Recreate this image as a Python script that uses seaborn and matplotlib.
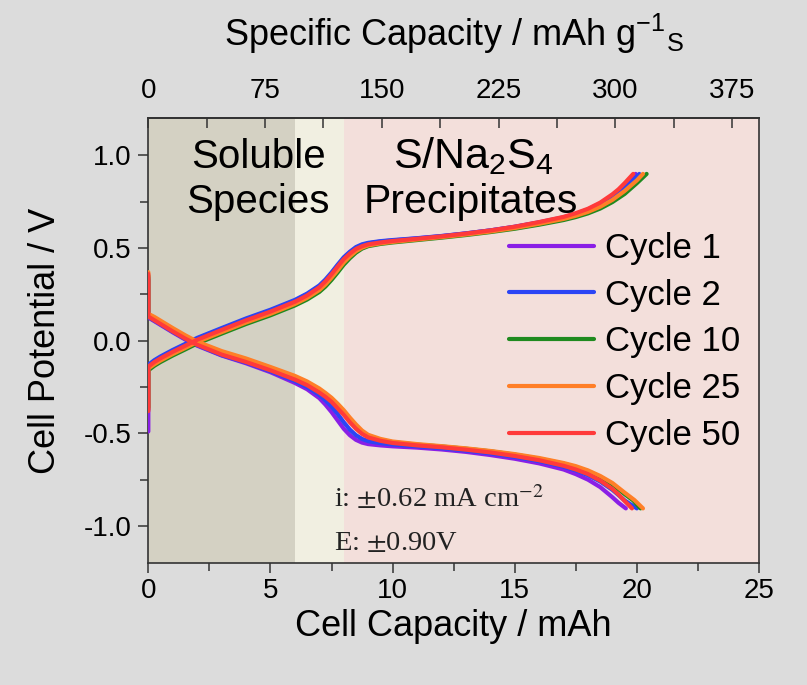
import matplotlib
matplotlib.use("Agg")
import matplotlib.pyplot as plt
import seaborn as sns
import pandas as pd
from matplotlib.ticker import MultipleLocator

# ---------------- data ----------------
CYCLES = ["Cycle 1", "Cycle 2", "Cycle 10", "Cycle 25", "Cycle 50"]
COLORS = ["#8a1fe6", "#2b45f5", "#1f8a1f", "#ff7f27", "#ff3a3a"]

# shared capacity grid (mAh) for the body of every curve
GRID_X = [0, 0, 0.25, 0.5, 1, 1.5, 2, 3, 4, 5, 6, 6.5, 7, 7.25, 7.5, 7.75, 8,
          8.25, 8.5, 8.75, 9, 9.5, 10, 11, 12, 13, 14, 15, 16, 17, 17.5, 18,
          18.5, 19]

# charge (potential rising) branches
CHG_Y_C1 = [-0.49, -0.135, -0.11, -0.09, -0.055, -0.022, 0.01, 0.063, 0.115, 0.162,
            0.215, 0.25, 0.293, 0.325, 0.363, 0.405, 0.445, 0.475, 0.5, 0.515,
            0.525, 0.535, 0.541, 0.552, 0.564, 0.579, 0.595, 0.615, 0.639, 0.666,
            0.685, 0.708, 0.74, 0.782]
CHG_Y_C2 = [-0.37, -0.13, -0.105, -0.085, -0.05, -0.018, 0.015, 0.068, 0.12, 0.167,
            0.22, 0.254, 0.298, 0.33, 0.368, 0.41, 0.45, 0.48, 0.505, 0.52,
            0.528, 0.537, 0.543, 0.553, 0.565, 0.579, 0.595, 0.614, 0.637, 0.663,
            0.681, 0.703, 0.733, 0.774]
CHG_Y_C10 = [-0.36, -0.16, -0.135, -0.115, -0.08, -0.048, -0.015, 0.038, 0.09, 0.137,
             0.19, 0.222, 0.263, 0.292, 0.328, 0.368, 0.41, 0.445, 0.475, 0.497,
             0.51, 0.522, 0.53, 0.543, 0.556, 0.57, 0.586, 0.604, 0.626, 0.651,
             0.667, 0.687, 0.713, 0.748]
CHG_Y_C25 = [-0.37, -0.15, -0.127, -0.107, -0.072, -0.04, -0.007, 0.046, 0.098, 0.145,
             0.198, 0.231, 0.273, 0.303, 0.34, 0.38, 0.422, 0.455, 0.483, 0.502,
             0.514, 0.525, 0.533, 0.546, 0.559, 0.573, 0.589, 0.608, 0.631, 0.657,
             0.674, 0.695, 0.723, 0.76]
CHG_Y_C50 = [-0.38, -0.14, -0.115, -0.095, -0.06, -0.028, 0.005, 0.058, 0.11, 0.157,
             0.21, 0.244, 0.288, 0.32, 0.358, 0.40, 0.44, 0.47, 0.495, 0.51,
             0.52, 0.53, 0.538, 0.55, 0.563, 0.578, 0.595, 0.615, 0.64, 0.668,
             0.688, 0.712, 0.745, 0.79]
CHG_TAIL_X = [[19.25, 19.5, 19.95], [19.25, 19.5, 19.75, 20.1], [19.5, 20.0, 20.4],
              [19.5, 20.0, 20.25], [19.25, 19.5, 19.85]]
CHG_TAIL_Y = [[0.807, 0.836, 0.90], [0.797, 0.823, 0.852, 0.90], [0.792, 0.85, 0.90],
              [0.808, 0.865, 0.90], [0.817, 0.85, 0.90]]

# discharge (potential falling) branches
DIS_Y_C1 = [0.33, 0.125, 0.105, 0.085, 0.045, 0.007, -0.027, -0.08, -0.122, -0.17,
            -0.228, -0.262, -0.31, -0.345, -0.385, -0.43, -0.475, -0.51, -0.535, -0.55,
            -0.558, -0.565, -0.57, -0.577, -0.587, -0.6, -0.617, -0.637, -0.662, -0.695,
            -0.72, -0.75, -0.79, -0.845]
DIS_Y_C2 = [0.34, 0.128, 0.108, 0.088, 0.048, 0.01, -0.024, -0.078, -0.118, -0.165,
            -0.218, -0.25, -0.293, -0.322, -0.355, -0.395, -0.44, -0.48, -0.51, -0.53,
            -0.542, -0.553, -0.56, -0.57, -0.58, -0.593, -0.608, -0.627, -0.65, -0.68,
            -0.7, -0.726, -0.76, -0.805]
DIS_Y_C10 = [0.35, 0.142, 0.122, 0.1, 0.058, 0.02, -0.012, -0.063, -0.102, -0.148,
             -0.198, -0.228, -0.266, -0.29, -0.316, -0.35, -0.385, -0.425, -0.462, -0.493,
             -0.515, -0.535, -0.548, -0.561, -0.571, -0.583, -0.597, -0.615, -0.637, -0.664,
             -0.682, -0.705, -0.735, -0.775]
DIS_Y_C25 = [0.37, 0.145, 0.128, 0.108, 0.068, 0.03, -0.005, -0.056, -0.096, -0.142,
             -0.19, -0.22, -0.258, -0.282, -0.308, -0.34, -0.375, -0.415, -0.452, -0.485,
             -0.508, -0.53, -0.544, -0.558, -0.569, -0.581, -0.595, -0.612, -0.633, -0.66,
             -0.677, -0.7, -0.73, -0.768]
DIS_Y_C50 = [0.36, 0.13, 0.11, 0.09, 0.05, 0.012, -0.022, -0.075, -0.115, -0.16,
             -0.21, -0.24, -0.28, -0.303, -0.33, -0.365, -0.40, -0.44, -0.475, -0.503,
             -0.522, -0.54, -0.552, -0.565, -0.575, -0.588, -0.603, -0.622, -0.645, -0.675,
             -0.695, -0.72, -0.755, -0.80]
DIS_TAIL_X = [[19.25, 19.55], [19.25, 19.5, 20.0], [19.5, 19.85, 20.15],
              [19.5, 19.9, 20.25], [19.25, 19.5, 19.8]]
DIS_TAIL_Y = [[-0.875, -0.905], [-0.833, -0.862, -0.905], [-0.828, -0.862, -0.905],
              [-0.82, -0.86, -0.905], [-0.83, -0.865, -0.905]]

CHG_Y = [CHG_Y_C1, CHG_Y_C2, CHG_Y_C10, CHG_Y_C25, CHG_Y_C50]
DIS_Y = [DIS_Y_C1, DIS_Y_C2, DIS_Y_C10, DIS_Y_C25, DIS_Y_C50]

X_TICKS = [0, 5, 10, 15, 20, 25]
Y_TICKS = [-1.0, -0.5, 0.0, 0.5, 1.0]
TOP_TICKS = [0, 75, 150, 225, 300, 375]
SPEC_PER_MAH = 15.69  # mAh g-1(S) per mAh

REGIONS = [(0, 6, "#d4d1c3"), (6, 8, "#f1efe1"), (8, 25, "#f3dfdb")]

# ---------------- dataframe ----------------
rows = []
for ci, cyc in enumerate(CYCLES):
    for branch, ys, tx, ty in (("charge", CHG_Y[ci], CHG_TAIL_X[ci], CHG_TAIL_Y[ci]),
                               ("discharge", DIS_Y[ci], DIS_TAIL_X[ci], DIS_TAIL_Y[ci])):
        xs = list(GRID_X) + list(tx)
        yy = list(ys) + list(ty)
        for k, (x, y) in enumerate(zip(xs, yy)):
            rows.append({"cycle": cyc, "branch": branch, "order": k,
                         "capacity": x, "potential": y})
df = pd.DataFrame(rows)

# ---------------- style ----------------
sns.set_theme(style="ticks")
plt.rcParams["font.family"] = ["Liberation Sans", "DejaVu Sans"]
plt.rcParams["axes.unicode_minus"] = False
plt.rcParams["mathtext.fontset"] = "custom"
plt.rcParams["mathtext.rm"] = "Liberation Sans"
plt.rcParams["mathtext.it"] = "Liberation Sans:italic"
plt.rcParams["mathtext.bf"] = "Liberation Sans:bold"
plt.rcParams["text.color"] = "black"
plt.rcParams["axes.labelcolor"] = "black"
plt.rcParams["xtick.color"] = "black"
plt.rcParams["ytick.color"] = "black"

BG = "#dcdcdc"
LW = 3.0
fig = plt.figure(figsize=(8.07, 6.85), dpi=100, facecolor=BG)
ax = fig.add_axes([0.1838, 0.178, 0.7567, 0.6493])

for x0, x1, c in REGIONS:
    ax.axvspan(x0, x1, color=c, lw=0, zorder=0)

sns.lineplot(data=df, x="capacity", y="potential", hue="cycle", hue_order=CYCLES,
             palette=COLORS, units="branch", estimator=None, sort=False,
             lw=LW, ax=ax, zorder=3)

ax.set_xlim(0, 25)
ax.set_ylim(-1.2, 1.2)
ax.set_xticks(X_TICKS)
ax.set_yticks(Y_TICKS)
ax.set_yticklabels([f"{v:.1f}" for v in Y_TICKS])
ax.xaxis.set_minor_locator(MultipleLocator(2.5))
ax.yaxis.set_minor_locator(MultipleLocator(0.25))
ax.tick_params(axis="both", which="major", direction="out", length=7, width=1.1,
               color="#333333", labelsize=20, labelcolor="black")
ax.tick_params(axis="both", which="minor", direction="out", length=6, width=1.1,
               color="#333333")
ax.tick_params(axis="x", pad=4)
ax.tick_params(axis="y", pad=5)
for s in ax.spines.values():
    s.set_visible(True)
    s.set_color("#333333")
    s.set_linewidth(1.2)

ax.set_xlabel("Cell Capacity / mAh", fontsize=26, labelpad=3.5, color="black")
ax.set_ylabel("Cell Potential / V", fontsize=26, labelpad=15, color="black")

sec = ax.secondary_xaxis("top", functions=(lambda x: x * SPEC_PER_MAH,
                                           lambda s: s / SPEC_PER_MAH))
sec.set_xticks(TOP_TICKS)
sec.xaxis.set_minor_locator(MultipleLocator(37.5))
sec.tick_params(axis="x", which="both", direction="in", length=7, width=1.1,
                color="#333333", labelsize=20, labelcolor="black", pad=10)
sec.set_xlabel(r"Specific Capacity / mAh g$^{-1}$$_{\mathrm{S}}$", fontsize=26,
               labelpad=23, color="black")

# region annotations
ax.text(4.5, 0.93, "Soluble", fontsize=29, ha="center", va="baseline", zorder=5)
ax.text(4.5, 0.69, "Species", fontsize=29, ha="center", va="baseline", zorder=5)
ax.text(13.3, 0.93, r"S/Na$_2$S$_4$", fontsize=31, ha="center", va="baseline", zorder=5)
ax.text(13.2, 0.69, "Precipitates", fontsize=29.5, ha="center", va="baseline", zorder=5)

ax.text(7.6, -0.90, r"i: $\pm$0.62 mA cm$^{-2}$", fontsize=20.5, ha="left",
        va="baseline", family=["Liberation Serif", "DejaVu Serif"],
        math_fontfamily="stix", color="#222222", zorder=5)
ax.text(7.6, -1.13, r"E: $\pm$0.90V", fontsize=20.5, ha="left", va="baseline",
        family=["Liberation Serif", "DejaVu Serif"], math_fontfamily="stix",
        color="#222222", zorder=5)

handles, labels = ax.get_legend_handles_labels()
leg = ax.legend(handles, labels, loc="upper left", bbox_to_anchor=(0.59, 0.745),
                frameon=False, fontsize=25, handlelength=2.45, handletextpad=0.32,
                labelspacing=0.40, borderpad=0, borderaxespad=0)
for h in leg.get_lines():
    h.set_linewidth(LW)
for t in leg.get_texts():
    t.set_color("black")

fig.savefig("out.png", dpi=100, facecolor=BG)
